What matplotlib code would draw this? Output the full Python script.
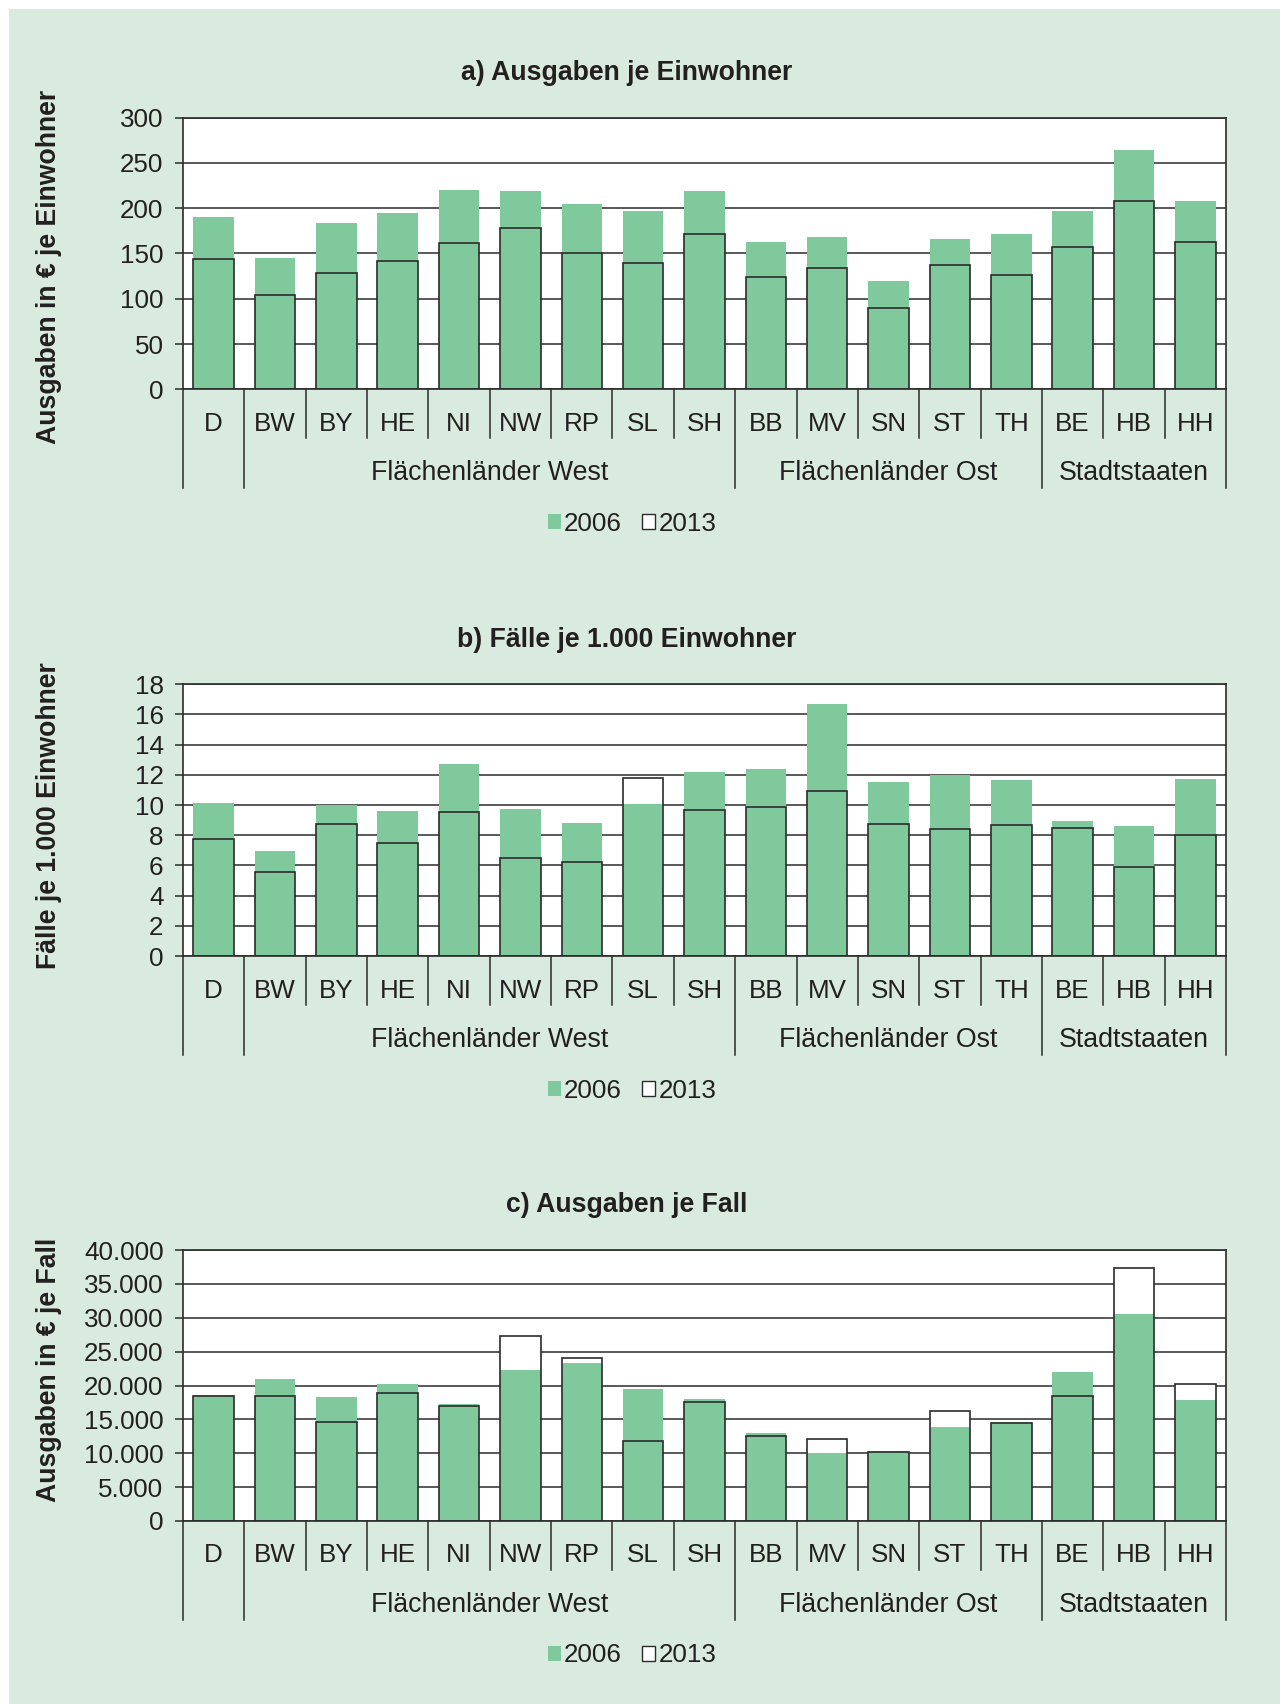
import numpy as np
import matplotlib
matplotlib.use('Agg')
import matplotlib.pyplot as plt
from matplotlib.patches import Patch, Rectangle
from matplotlib.transforms import blended_transform_factory
from matplotlib.ticker import FuncFormatter

plt.rcParams['font.family'] = ['Liberation Sans', 'DejaVu Sans']

# --- Data ---
categories = ['D', 'BW', 'BY', 'HE', 'NI', 'NW', 'RP', 'SL', 'SH',
              'BB', 'MV', 'SN', 'ST', 'TH', 'BE', 'HB', 'HH']
group_names = ['Flächenländer West', 'Flächenländer Ost', 'Stadtstaaten']
group_first = [1, 9, 14]
group_last = [8, 13, 16]
legend_labels = ['2006', '2013']

# a) Ausgaben je Einwohner
exp_pc_2006 = [190, 145, 184, 195, 220, 218.5, 205, 197, 219,
               163, 168, 120, 166, 172, 197, 264, 208.5]
exp_pc_2013 = [144, 104, 128, 142, 162, 178, 151, 139.5, 171,
               124, 134, 90, 137, 126, 157, 208, 163]

# b) Fälle je 1.000 Einwohner
cases_2006 = [10.16, 6.96, 10.0, 9.63, 12.72, 9.74, 8.81, 10.07, 12.17,
              12.37, 16.7, 11.55, 12.01, 11.66, 8.92, 8.64, 11.7]
cases_2013 = [7.75, 5.59, 8.72, 7.51, 9.52, 6.52, 6.21, 11.79, 9.70,
              9.85, 10.95, 8.75, 8.41, 8.66, 8.48, 5.87, 8.04]

# c) Ausgaben je Fall
exp_case_2006 = [18600, 20900, 18300, 20250, 17250, 22350, 23250, 19500, 17950,
                 13050, 10100, 10350, 13850, 14600, 22050, 30500, 17800]
exp_case_2013 = [18450, 18450, 14600, 18850, 16950, 27300, 24100, 11800, 17600,
                 12600, 12150, 10200, 16300, 14450, 18450, 37300, 20200]

GREEN = '#80c99c'
BG = '#d8ebde'
LINE = '#2b2b2b'
TEXT = '#231f20'
BAR_W = 0.66

W, H = 1282, 1704
fig = plt.figure(figsize=(W / 100, H / 100), dpi=100)
fig.patch.set_facecolor('white')
# green panel background, behind all axes
fig.patches.append(Rectangle((9 / W, 0), (1280 - 9) / W, (H - 9) / H,
                             transform=fig.transFigure, facecolor=BG,
                             edgecolor='none', zorder=-10))

AX_LEFT = 183 / W
AX_WIDTH = (1226 - 183) / W


def german(v, pos):
    return f'{int(round(v)):,}'.replace(',', '.')


def draw_panel(top_px, bottom_px, v06, v13, ymax, step, title, ylabel, ylabel_y, fmt=None):
    ax = fig.add_axes([AX_LEFT, 1 - bottom_px / H, AX_WIDTH, (bottom_px - top_px) / H])
    h_px = bottom_px - top_px
    x = np.arange(len(categories))

    ax.set_facecolor('white')
    ax.set_axisbelow(True)
    ax.yaxis.grid(True, color=LINE, lw=1.1)

    # 2013 white fill, 2006 green on top, 2013 outline last
    ax.bar(x, v13, width=BAR_W, color='white', edgecolor='none', zorder=2)
    ax.bar(x, v06, width=BAR_W, color=GREEN, edgecolor='none', zorder=3)
    ax.bar(x, v13, width=BAR_W, fill=False, edgecolor=LINE, lw=1.2, zorder=4)

    ax.set_xlim(-0.5, len(categories) - 0.5)
    ax.set_ylim(0, ymax)
    ax.set_yticks(np.arange(0, ymax + step / 2, step))
    if fmt is not None:
        ax.yaxis.set_major_formatter(FuncFormatter(fmt))
    ax.set_xticks([])
    ax.tick_params(axis='y', length=5.5, width=1.1, pad=8.5, labelsize=18.7,
                   color=LINE, labelcolor=TEXT)
    for sp in ax.spines.values():
        sp.set_color(LINE)
        sp.set_linewidth(1.2)
        sp.set_zorder(5)

    trans = blended_transform_factory(ax.transData, ax.transAxes)
    long_lines = {-0.5, 0.5} | {g + 0.5 for g in group_last}
    for i in range(len(categories) + 1):
        xb = i - 0.5
        depth = 98.5 if xb in long_lines else 48.5
        ax.plot([xb, xb], [0, -depth / h_px], transform=trans, color=LINE,
                lw=1.1, clip_on=False)

    for i, c in enumerate(categories):
        ax.text(i, -34.5 / h_px, c, transform=trans, ha='center', va='center',
                fontsize=18.7, color=TEXT)
    for name, a, b in zip(group_names, group_first, group_last):
        ax.text((a + b) / 2, -84 / h_px, name, transform=trans, ha='center',
                va='center', fontsize=19.3, color=TEXT)

    ax.text((627 - 183) / (1226 - 183), 1 + 44.5 / h_px, title, transform=ax.transAxes,
            ha='center', va='center', fontsize=19.2, fontweight='bold', color=TEXT)
    ax.text((49 - 183) / (1226 - 183), ylabel_y, ylabel, transform=ax.transAxes,
            rotation=90, ha='center', va='center', fontsize=19.2,
            fontweight='bold', color=TEXT)

    handles = [Patch(facecolor=GREEN, edgecolor='none'),
               Patch(facecolor='white', edgecolor=LINE, lw=1.0)]
    ax.legend(handles, legend_labels, loc='center',
              bbox_to_anchor=((632 - 183) / (1226 - 183), -134.5 / h_px),
              ncol=2, frameon=False, fontsize=18.7, handlelength=0.5,
              handleheight=0.5, handletextpad=0.12, columnspacing=0.8,
              labelcolor=TEXT)
    return ax


draw_panel(117.7, 389.3, exp_pc_2006, exp_pc_2013, 300, 50,
           'a) Ausgaben je Einwohner', 'Ausgaben in € je Einwohner', 0.452)
draw_panel(684.3, 956.0, cases_2006, cases_2013, 18, 2,
           'b) Fälle je 1.000 Einwohner', 'Fälle je 1.000 Einwohner', 0.515)
draw_panel(1250.0, 1521.0, exp_case_2006, exp_case_2013, 40000, 5000,
           'c) Ausgaben je Fall', 'Ausgaben in € je Fall', 0.557, fmt=german)

fig.savefig('out.png', dpi=100, facecolor=fig.get_facecolor())
